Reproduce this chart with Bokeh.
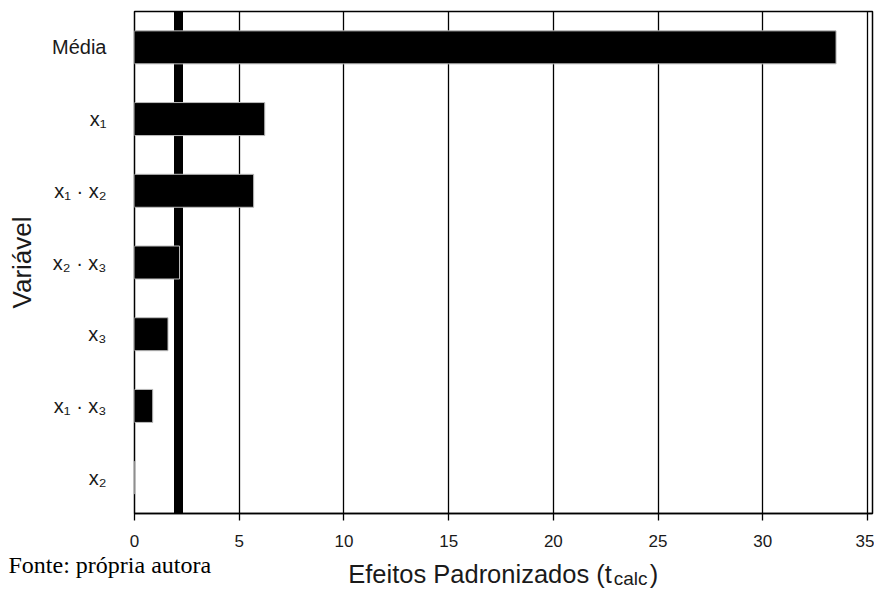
from bokeh.plotting import figure
from bokeh.models import Range1d, FactorRange, FixedTicker, LinearAxis, Title
from bokeh.embed import file_html
from bokeh.resources import INLINE

# data
variables = ["Média", "x₁", "x₁ · x₂", "x₂ · x₃", "x₃", "x₁ · x₃", "x₂"]
effects = [33.5, 6.22, 5.69, 2.15, 1.6, 0.87, 0.0]
t_crit = 2.1
x_ticks = [0, 5, 10, 15, 20, 25, 30, 35]

FONT = "Liberation Sans"
W, H = 874, 593

p = figure(width=W, height=H, output_backend="svg", toolbar_location=None,
           y_range=FactorRange(*reversed(variables), range_padding=0),
           x_range=Range1d(0, 35.24),
           min_border_left=134, min_border_right=2, min_border_top=11, min_border_bottom=80)

# grid
p.xgrid.grid_line_color = "black"
p.xgrid.grid_line_width = 1.3
p.xgrid.ticker = FixedTicker(ticks=x_ticks)
p.ygrid.grid_line_color = None
p.outline_line_color = "black"
p.outline_line_width = 1.5
p.background_fill_color = "white"
p.border_fill_color = "white"

# critical t line
p.vspan(x=[t_crit], line_color="black", line_width=9)

# bars
p.hbar(y=variables, right=effects, left=0, height=0.46,
       fill_color="black", line_color="#bdbdbd", line_width=1)

# axes
xa = p.xaxis[0]
xa.ticker = FixedTicker(ticks=x_ticks)
xa.axis_line_color = "black"
xa.axis_line_width = 1.3
xa.major_tick_line_color = "black"
xa.major_tick_line_width = 1.3
xa.major_tick_out = 7
xa.major_tick_in = 0
xa.minor_tick_line_color = None
xa.major_label_text_font = FONT
xa.major_label_text_font_size = "17px"
xa.major_label_text_color = "#1a1a1a"
xa.major_label_standoff = 14

ya = p.yaxis[0]
ya.axis_line_color = None
ya.major_tick_line_color = None
ya.minor_tick_line_color = None
ya.major_label_text_font = FONT
ya.major_label_text_font_size = "20px"
ya.major_label_text_color = "#1a1a1a"
ya.major_label_standoff = 22
ya.axis_label = "Variável"
ya.axis_label_text_font = FONT
ya.axis_label_text_font_size = "26px"
ya.axis_label_text_font_style = "normal"
ya.axis_label_text_color = "#1a1a1a"
ya.axis_label_standoff = 12

# source note (bottom-left, under the tick labels)
p.add_layout(Title(text="Fonte: própria autora", align="left", offset=-126, standoff=0,
                   text_font="Liberation Serif", text_font_size="24px",
                   text_font_style="normal", text_color="black"), "below")


def text_axis(pos_to_text, size, standoff):
    ax = LinearAxis(ticker=FixedTicker(ticks=list(pos_to_text.keys()), minor_ticks=[]),
                    major_label_overrides=pos_to_text)
    ax.axis_line_color = None
    ax.major_tick_line_color = None
    ax.minor_tick_line_color = None
    ax.major_tick_out = 0
    ax.major_tick_in = 0
    ax.major_label_text_font = FONT
    ax.major_label_text_font_size = size
    ax.major_label_text_color = "#1a1a1a"
    ax.major_label_standoff = standoff
    p.add_layout(ax, "below")
    return ax


# x-axis title "Efeitos Padronizados (t_calc)" assembled from pieces
text_axis({16.5: "Efeitos Padronizados (t", 24.81: ")"}, "25.5px", -18)
text_axis({23.69: "calc"}, "19px", -23)

open("out.html", "w").write(file_html(p, INLINE))
